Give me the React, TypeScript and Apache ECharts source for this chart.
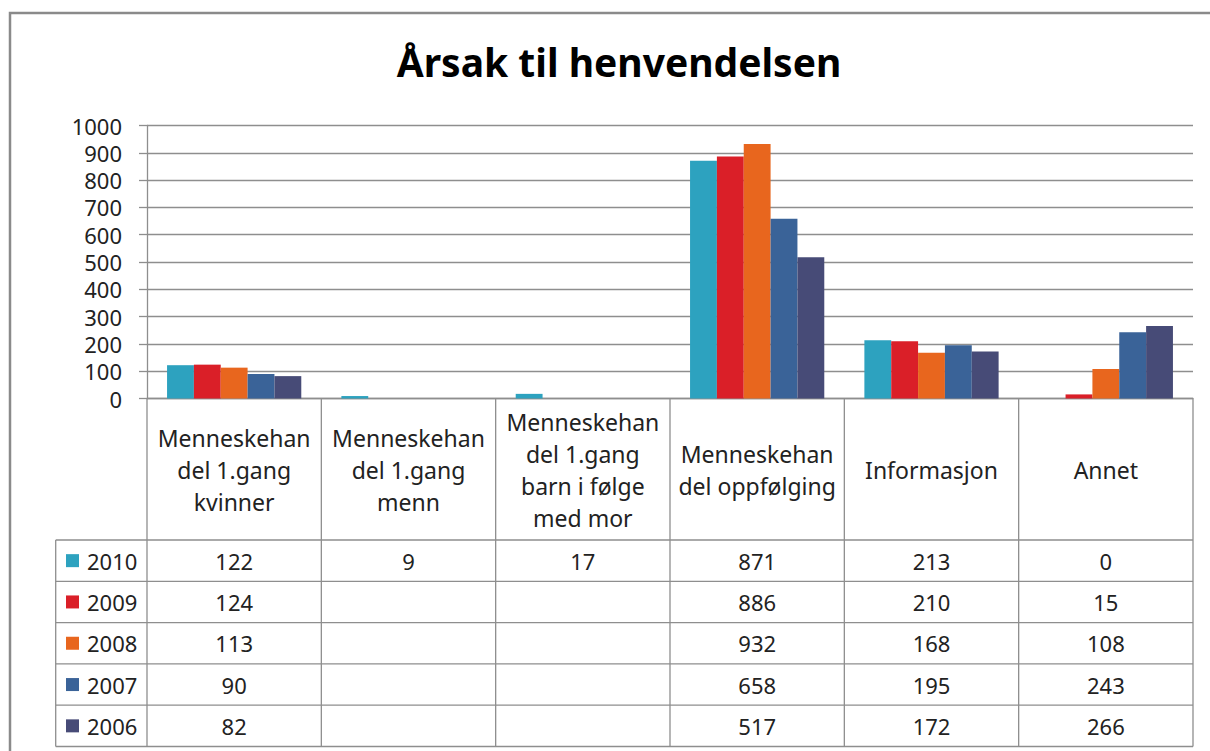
import React, { useEffect, useRef } from "react";
import * as echarts from "echarts";

const chartTitle = "Årsak til henvendelsen";
const categories = [
  "Menneskehan\ndel 1.gang\nkvinner",
  "Menneskehan\ndel 1.gang\nmenn",
  "Menneskehan\ndel 1.gang\nbarn i følge\nmed mor",
  "Menneskehan\ndel oppfølging",
  "Informasjon",
  "Annet",
];
const years = ["2010", "2009", "2008", "2007", "2006"];
const v2010 = [122, 9, 17, 871, 213, 0];
const v2009 = [124, null, null, 886, 210, 15];
const v2008 = [113, null, null, 932, 168, 108];
const v2007 = [90, null, null, 658, 195, 243];
const v2006 = [82, null, null, 517, 172, 266];
const seriesValues = [v2010, v2009, v2008, v2007, v2006];
const yMin = 0;
const yMax = 1000;
const yInterval = 100;

const colors = ["#2DA2BF", "#DA1F28", "#E8661E", "#3A6398", "#474B77"];
const FONT = '"Noto Sans", "DejaVu Sans", sans-serif';
const LINE = "#8e8e8e";
const TEXT = "#222222";

// layout
const W = 1210;
const H = 751;
const GRID_LEFT = 147;
const GRID_RIGHT = 1193;
const GRID_TOP = 125.5;
const AXIS_Y = 398.5;
const HEADER_BOTTOM = 540;
const ROW_H = 41.3;
const TABLE_LEFT = 55.7;

export default function App() {
  const ref = useRef<HTMLDivElement>(null);
  useEffect(() => {
    if (!ref.current) return;
    const chart = echarts.init(ref.current, null, { renderer: "svg" });
    const colW = (GRID_RIGHT - GRID_LEFT) / categories.length;
    const tableBottom = HEADER_BOTTOM + ROW_H * years.length;
    const graphics: any[] = [];
    // outer frame
    graphics.push({
      type: "rect",
      shape: { x: 10, y: 13, width: W + 20, height: H + 20 },
      style: { fill: "none", stroke: "#8a8a8a", lineWidth: 2.5 },
      silent: true,
    });
    // title
    graphics.push({
      type: "text",
      x: 619,
      y: 61,
      style: {
        text: chartTitle,
        fill: "#000",
        fontSize: 39,
        fontWeight: "bold",
        fontFamily: FONT,
        align: "center",
        verticalAlign: "middle",
      },
    });
    // horizontal table lines
    for (let i = 0; i <= years.length; i++) {
      const y = HEADER_BOTTOM + i * ROW_H;
      graphics.push({
        type: "line",
        shape: { x1: TABLE_LEFT, y1: y, x2: GRID_RIGHT, y2: y },
        style: { stroke: LINE, lineWidth: 1.3 },
      });
    }
    // vertical table lines
    graphics.push({
      type: "line",
      shape: { x1: TABLE_LEFT, y1: HEADER_BOTTOM, x2: TABLE_LEFT, y2: tableBottom },
      style: { stroke: LINE, lineWidth: 1.3 },
    });
    for (let j = 0; j <= categories.length; j++) {
      const x = GRID_LEFT + j * colW;
      graphics.push({
        type: "line",
        shape: { x1: x, y1: AXIS_Y, x2: x, y2: tableBottom },
        style: { stroke: LINE, lineWidth: 1.3 },
      });
    }
    // rows: legend keys + values
    years.forEach((yr, i) => {
      const cy = HEADER_BOTTOM + i * ROW_H + ROW_H / 2;
      graphics.push({
        type: "rect",
        shape: { x: 66, y: cy - 6.5, width: 13, height: 13 },
        style: { fill: colors[i] },
      });
      graphics.push({
        type: "text",
        x: 87,
        y: cy,
        style: {
          text: yr,
          fill: TEXT,
          fontSize: 22,
          fontFamily: FONT,
          align: "left",
          verticalAlign: "middle",
        },
      });
      seriesValues[i].forEach((v, j) => {
        if (v === null || v === undefined) return;
        graphics.push({
          type: "text",
          x: GRID_LEFT + j * colW + colW / 2,
          y: cy,
          style: {
            text: String(v),
            fill: TEXT,
            fontSize: 22,
            fontFamily: FONT,
            align: "center",
            verticalAlign: "middle",
          },
        });
      });
    });

    chart.setOption({
      animation: false,
      backgroundColor: "#ffffff",
      grid: {
        left: GRID_LEFT,
        right: W - GRID_RIGHT,
        top: GRID_TOP,
        bottom: H - AXIS_Y,
        containLabel: false,
      },
      xAxis: {
        type: "category",
        data: categories,
        axisLine: { show: true, lineStyle: { color: LINE, width: 1.3 } },
        axisTick: { show: false },
        axisLabel: {
          interval: 0,
          margin: 71,
          verticalAlign: "middle",
          align: "center",
          lineHeight: 32,
          fontSize: 23,
          fontFamily: FONT,
          color: TEXT,
        },
        splitLine: { show: false },
      },
      yAxis: {
        type: "value",
        min: yMin,
        max: yMax,
        interval: yInterval,
        axisLine: { show: true, lineStyle: { color: LINE, width: 1.3 } },
        axisTick: { show: true, length: 8, lineStyle: { color: LINE, width: 1.3 } },
        axisLabel: {
          margin: 25,
          fontSize: 22,
          fontFamily: FONT,
          color: TEXT,
          formatter: (v: number) => String(v),
        },
        splitLine: { show: true, lineStyle: { color: LINE, width: 1.3 } },
      },
      series: years.map((yr, i) => ({
        name: yr,
        type: "bar",
        data: seriesValues[i],
        barGap: "0%",
        barCategoryGap: "23%",
        itemStyle: { color: colors[i] },
      })),
      graphic: graphics,
    });
    return () => chart.dispose();
  }, []);
  return (
    <div
      ref={ref}
      style={{ position: "fixed", left: 0, top: 0, width: W, height: H, background: "#fff" }}
    />
  );
}
